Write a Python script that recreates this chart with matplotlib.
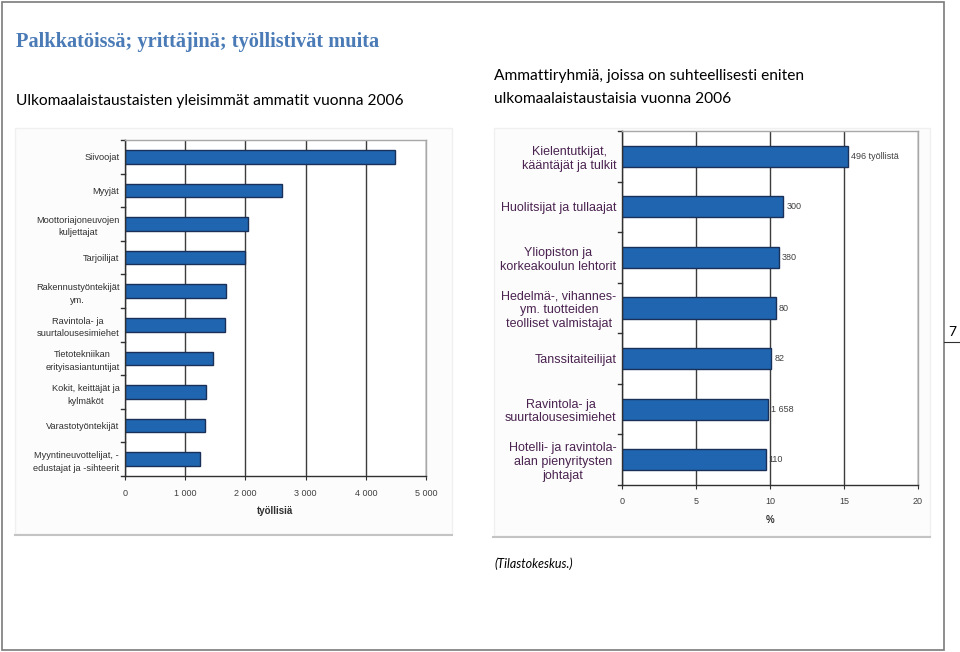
import matplotlib.pyplot as plt
from matplotlib.patches import Rectangle
from matplotlib.lines import Line2D


W, H = 960, 652

# left chart: most common occupations of people with foreign background, 2006
LEFT_CATEGORIES = [
    "Siivoojat",
    "Myyjät",
    "Moottoriajoneuvojen\nkuljettajat",
    "Tarjoilijat",
    "Rakennustyöntekijät\nym.",
    "Ravintola- ja\nsuurtalousesimiehet",
    "Tietotekniikan\nerityisasiantuntijat",
    "Kokit, keittäjät ja\nkylmäköt",
    "Varastotyöntekijät",
    "Myyntineuvottelijat, -\nedustajat ja -sihteerit",
]
LEFT_VALUES = [4490, 2600, 2050, 2000, 1670, 1658, 1460, 1340, 1325, 1240]
LEFT_TICKS = [0, 1000, 2000, 3000, 4000, 5000]
LEFT_TICK_LABELS = ["0", "1 000", "2 000", "3 000", "4 000", "5 000"]

# right chart: share (%) of people with foreign background by occupation
RIGHT_CATEGORIES = [
    "Kielentutkijat,\nkääntäjät ja tulkit",
    "Huolitsijat ja tullaajat",
    "Yliopiston ja\nkorkeakoulun lehtorit",
    "Hedelmä-, vihannes-\nym. tuotteiden\nteolliset valmistajat",
    "Tanssitaiteilijat",
    "Ravintola- ja\nsuurtalousesimiehet",
    "Hotelli- ja ravintola-\nalan pienyritysten\njohtajat",
]
RIGHT_VALUES = [15.3, 10.9, 10.6, 10.4, 10.1, 9.85, 9.7]
RIGHT_COUNTS = ["496 työllistä", "300", "380", "80", "82", "1 658", "110"]
RIGHT_TICKS = [0, 5, 10, 15, 20]

BAR_COLOR = "#1f65b0"
BAR_EDGE = "#1b3058"
GRID_COLOR = "#3c3c3c"
TICK_TEXT = "#404040"


def px_axes(fig, x0, y0, x1, y1):
    # axes rectangle given in pixel coordinates (origin top-left)
    return fig.add_axes([x0 / W, 1 - y1 / H, (x1 - x0) / W, (y1 - y0) / H])


def style_bar_axes(ax):
    ax.set_axisbelow(True)
    ax.grid(axis="x", color=GRID_COLOR, linewidth=1.0)
    for side in ["top", "right"]:
        ax.spines[side].set_color("#a8a8a8")
        ax.spines[side].set_linewidth(1.0)
    for side in ["left", "bottom"]:
        ax.spines[side].set_color("#303030")
        ax.spines[side].set_linewidth(1.0)
    ax.tick_params(axis="y", length=0, pad=4)
    ax.tick_params(axis="x", length=3, color="#303030", colors=TICK_TEXT, pad=6)


def category_ticks(ax, n):
    # small ticks between categories on the value axis
    for i in range(n + 1):
        ax.plot([-0.012, 0], [i - 0.5, i - 0.5], transform=ax.get_yaxis_transform(),
                color="#303030", linewidth=1.0, clip_on=False)


fig = plt.figure(figsize=(W / 100, H / 100), dpi=100)
fig.patch.set_facecolor("white")

# page frame
fig.add_artist(Rectangle((1.5 / W, 1 - 650 / H), 942 / W, 648.5 / H,
                         transform=fig.transFigure, fill=False,
                         edgecolor="#7a7a7a", linewidth=1.2))

# chart picture frames (faint)
fig.add_artist(Rectangle((15 / W, 1 - 534 / H), 437 / W, 406 / H,
                         transform=fig.transFigure, facecolor="#fcfcfc",
                         edgecolor="#f0f0f0", linewidth=1.0, zorder=0))
fig.add_artist(Line2D([15 / W, 452 / W], [1 - 535 / H, 1 - 535 / H],
                      transform=fig.transFigure, color="#c4c4c4", linewidth=1.5))
fig.add_artist(Rectangle((494 / W, 1 - 536 / H), 436 / W, 408 / H,
                         transform=fig.transFigure, facecolor="#fcfcfc",
                         edgecolor="#f0f0f0", linewidth=1.0, zorder=0))
fig.add_artist(Line2D([493 / W, 930 / W], [1 - 537 / H, 1 - 537 / H],
                      transform=fig.transFigure, color="#c4c4c4", linewidth=1.5))

# texts of the slide
fig.text(16 / W, 1 - 42 / H, "Palkkatöissä; yrittäjinä; työllistivät muita",
         family="Liberation Serif", weight="bold", fontsize=14.7, color="#4a7bb7",
         va="center", ha="left")
fig.text(16 / W, 1 - 101 / H, "Ulkomaalaistaustaisten yleisimmät ammatit vuonna 2006",
         family="Lato", fontsize=11.2, color="black", va="center", ha="left")
fig.text(494 / W, 1 - 76 / H, "Ammattiryhmiä, joissa on suhteellisesti eniten",
         family="Lato", fontsize=11.2, color="black", va="center", ha="left")
fig.text(494 / W, 1 - 99 / H, "ulkomaalaistaustaisia vuonna 2006",
         family="Lato", fontsize=11.2, color="black", va="center", ha="left")
fig.text(494 / W, 1 - 564 / H, "(Tilastokeskus.)", family="Lato", style="italic",
         fontsize=9, color="black", va="center", ha="left")
fig.text(948 / W, 1 - 332 / H, "7", family="Lato", fontsize=10, color="black",
         va="center", ha="left")
fig.add_artist(Line2D([944 / W, 960 / W], [1 - 342 / H, 1 - 342 / H],
                      transform=fig.transFigure, color="#303030", linewidth=0.8))

# left chart
ax1 = px_axes(fig, 125, 140, 426, 476)
y1 = list(range(len(LEFT_CATEGORIES)))
ax1.barh(y1, LEFT_VALUES, height=0.41, color=BAR_COLOR, edgecolor=BAR_EDGE, linewidth=1.0)
ax1.set_xlim(0, 5000)
ax1.set_ylim(len(LEFT_CATEGORIES) - 0.5, -0.5)
ax1.set_xticks(LEFT_TICKS)
ax1.set_xticklabels(LEFT_TICK_LABELS, family="Liberation Sans", fontsize=6.5)
ax1.set_yticks(y1)
ax1.set_yticklabels(LEFT_CATEGORIES, family="Liberation Sans", fontsize=6.7,
                    color="#303030", multialignment="center", linespacing=1.5)
style_bar_axes(ax1)
category_ticks(ax1, len(LEFT_CATEGORIES))
ax1.set_xlabel("työllisiä", family="Liberation Sans", fontsize=7, weight="bold",
               color="#303030", labelpad=6)

# right chart
ax2 = px_axes(fig, 622, 131, 918, 485)
y2 = list(range(len(RIGHT_CATEGORIES)))
ax2.barh(y2, RIGHT_VALUES, height=0.42, color=BAR_COLOR, edgecolor=BAR_EDGE, linewidth=1.0)
ax2.set_xlim(0, 20)
ax2.set_ylim(len(RIGHT_CATEGORIES) - 0.5, -0.5)
ax2.set_xticks(RIGHT_TICKS)
ax2.set_xticklabels([str(t) for t in RIGHT_TICKS], family="Liberation Sans", fontsize=6.5)
ax2.set_yticks(y2)
ax2.set_yticklabels(RIGHT_CATEGORIES, family="Liberation Sans", fontsize=9,
                    color="#4a2350", multialignment="center", linespacing=1.2)
style_bar_axes(ax2)
category_ticks(ax2, len(RIGHT_CATEGORIES))
ax2.set_xlabel("%", family="Liberation Sans", fontsize=7, weight="bold",
               color="#303030", labelpad=6)

for yi, value, count in zip(y2, RIGHT_VALUES, RIGHT_COUNTS):
    ax2.text(value + 0.2, yi, count, family="Liberation Sans", fontsize=6.5,
             color=TICK_TEXT, va="center", ha="left")

fig.savefig("out.png", dpi=100)
